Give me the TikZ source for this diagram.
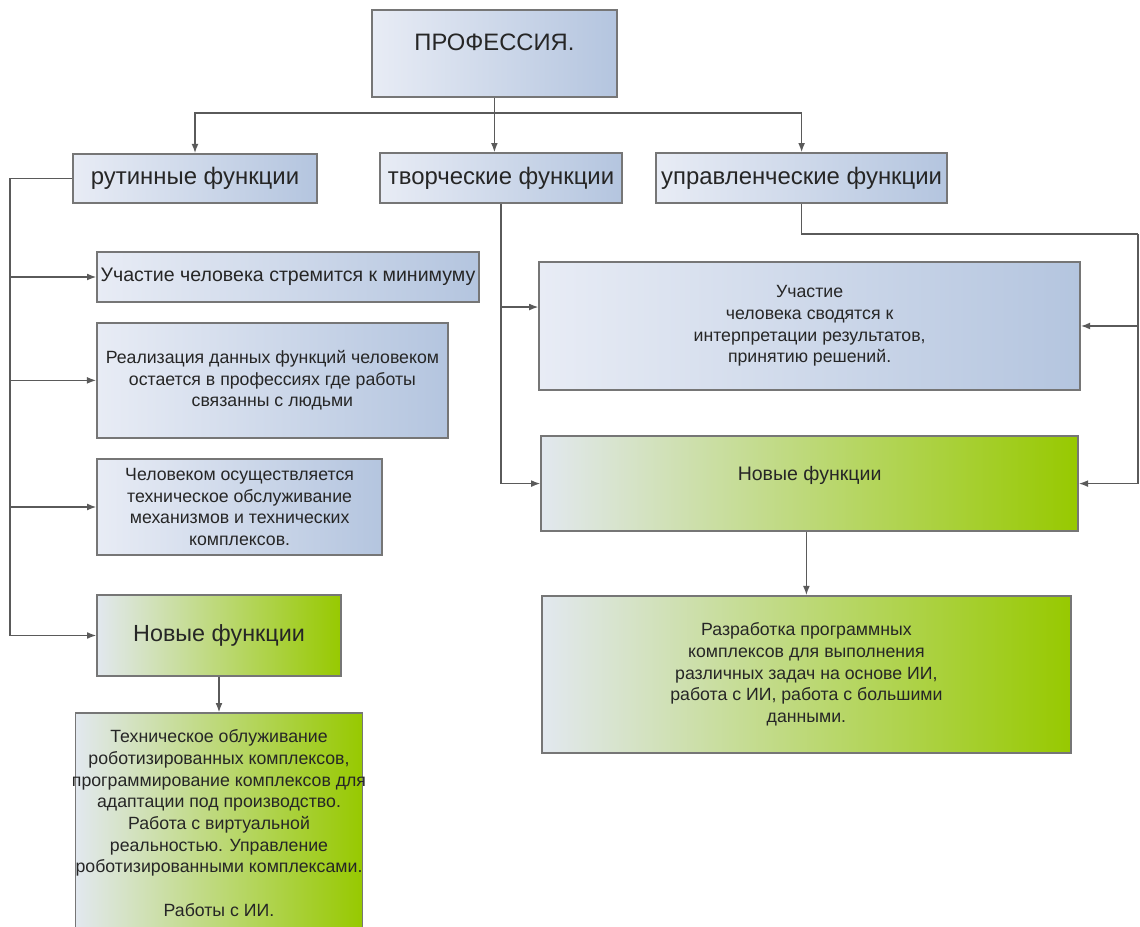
\documentclass[tikz,border=0pt]{standalone}
\usepackage{fontspec}
\setmainfont{Liberation Sans}
\usetikzlibrary{arrows.meta}

\definecolor{blueleft}{HTML}{E8ECF5}
\definecolor{blueright}{HTML}{B4C5DF}
\definecolor{greenleft}{HTML}{E2E8EF}
\definecolor{greenright}{HTML}{97C900}
\definecolor{framegray}{HTML}{767676}
\definecolor{linegray}{HTML}{5A5A5A}
\definecolor{inkgray}{HTML}{262626}

\begin{document}
\begin{tikzpicture}[
    box/.style = {draw = framegray, line width = 1pt, align = center, text = inkgray, inner xsep = 1pt},
    bluebox/.style = {box, left color = blueleft, right color = blueright},
    greenbox/.style = {box, left color = greenleft, right color = greenright},
    headfont/.style = {font = \fontsize{17}{20}\selectfont},
    bodyfont/.style = {font = \fontsize{12.6}{15.4}\selectfont},
    link/.style = {draw = linegray, line width = 1pt},
    arrow/.style = {link, -{Latex[length = 2.3mm, width = 1.7mm]}}
]

    \useasboundingbox (0, 0) rectangle (28.5, 23.15);

    % Top box
    \node[bluebox, font = \fontsize{16.9}{19}\selectfont, minimum width = 6.125cm, minimum height = 2.175cm, text depth = 0.575cm] (prof) at (12.36, 21.81) {ПРОФЕССИЯ.};

    % Function boxes
    \node[bluebox, headfont, minimum width = 6.1cm, minimum height = 1.225cm] (rut) at (4.875, 18.69) {рутинные функции};
    \node[bluebox, headfont, minimum width = 6.05cm, minimum height = 1.25cm] (tvor) at (12.525, 18.7) {творческие функции};
    \node[bluebox, headfont, minimum width = 7.275cm, minimum height = 1.25cm] (upr) at (20.04, 18.7) {управленческие функции};

    % Left column
    \node[bluebox, font = \fontsize{13.9}{16}\selectfont, minimum width = 9.55cm, minimum height = 1.25cm] (minb) at (7.2, 16.225) {Участие человека стремится к минимуму};
    \node[bluebox, bodyfont, minimum width = 8.775cm, minimum height = 2.875cm] (realb) at (6.81, 13.64) {Реализация данных функций человеком\\ остается в профессиях где работы\\ связанны с людьми};
    \node[bluebox, bodyfont, minimum width = 7.125cm, minimum height = 2.4cm] (chelb) at (5.99, 10.475) {Человеком осуществляется\\ техническое обслуживание\\ механизмов и технических\\ комплексов.};
    \node[greenbox, font = \fontsize{16.6}{19}\selectfont, minimum width = 6.1cm, minimum height = 2.025cm] (newL) at (5.475, 7.2625) {Новые функции};
    \node[greenbox, bodyfont, minimum width = 7.1cm, minimum height = 5.5cm, inner xsep = 0pt] (techb) at (5.475, 2.575) {Техническое облуживание\\ роботизированных комплексов,\\ \makebox[6.9cm]{программирование комплексов для}\\ адаптации под производство.\\ Работа с виртуальной\\ реальностью.  Управление\\ роботизированными комплексами.\\[15.4pt] Работы с ИИ.};

    % Right column
    \node[bluebox, bodyfont, minimum width = 13.525cm, minimum height = 3.2cm] (uchb) at (20.24, 15) {Участие\\ человека сводятся к\\ интерпретации результатов,\\ принятию решений.};
    \node[greenbox, font = \fontsize{13.9}{16}\selectfont, minimum width = 13.425cm, minimum height = 2.375cm, text depth = 0.525cm] (newR) at (20.24, 11.06) {Новые функции};
    \node[greenbox, bodyfont, minimum width = 13.225cm, minimum height = 3.925cm] (razb) at (20.16, 6.29) {Разработка программных\\ комплексов для выполнения\\ различных задач на основе ИИ,\\ работа с ИИ, работа с большими\\ данными.};

    % Top branches
    \coordinate (bus) at (12.36, 20.325);
    \draw[link] (prof.south) -- (bus);
    \draw[arrow] (bus) -| (rut.north);
    \draw[arrow] (bus) -- (bus |- tvor.north);
    \draw[arrow] (bus) -| (upr.north);

    % Left spine
    \coordinate (spine) at (0.25, 0);
    \draw[arrow] (rut.west) -- (spine |- rut.west) |- (newL.west);
    \draw[arrow] (spine |- minb.west) -- (minb.west);
    \draw[arrow] (spine |- realb.west) -- (realb.west);
    \draw[arrow] (spine |- chelb.west) -- (chelb.west);
    \draw[arrow] (newL.south) -- (techb.north);

    % Right links
    \draw[arrow] (tvor.south) |- (newR.west);
    \draw[arrow] (tvor.south |- uchb.176) -- (uchb.176);
    \coordinate (rtop) at (28.45, 17.3);
    \draw[link] (upr.south) |- (rtop);
    \draw[arrow] (rtop) |- (newR.east);
    \draw[arrow] (rtop |- uchb.east) -- (uchb.east);
    \draw[arrow] (newR.south -| razb.north) -- (razb.north);

\end{tikzpicture}
\end{document}
